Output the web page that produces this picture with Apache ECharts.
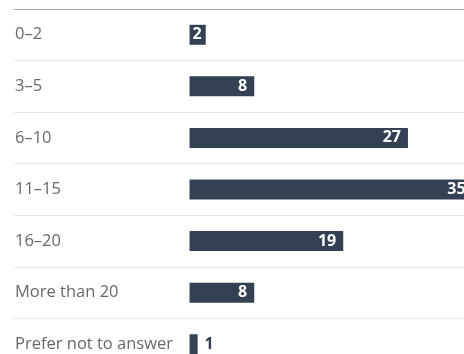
<!DOCTYPE html>
<html>
<head>
<meta charset="utf-8">
<script src="https://cdn.jsdelivr.net/npm/echarts@6/dist/echarts.min.js"></script>
<style>
  html, body { margin: 0; padding: 0; background: #fff; }
  #chart { width: 464px; height: 354px; }
</style>
</head>
<body>
<div id="chart"></div>
<script>
const categories = ['0–2', '3–5', '6–10', '11–15', '16–20', 'More than 20', 'Prefer not to answer']
const counts = [2, 8, 27, 35, 19, 8, 1]

const barColor = '#344154'

const chart = echarts.init(document.getElementById('chart'))

const option = {
  animation: false,
  // last row runs past the bottom edge, like the source
  grid: { left: 14, right: 0, top: 9, height: 361, outerBoundsMode: 'none' },
  xAxis: {
    type: 'value',
    position: 'top',
    min: -21.7,   // leaves room for the labels, bars start at x≈190
    max: 33.93,
    axisLine: { show: true, lineStyle: { color: '#aaaaaa', width: 1 } },
    axisTick: { show: false },
    axisLabel: { show: false },
    splitLine: { show: false }
  },
  yAxis: {
    type: 'category',
    inverse: true,
    data: categories,
    axisLine: { show: false },
    axisTick: { show: false },
    axisLabel: {
      inside: true,
      margin: 1,
      color: '#686868',
      fontFamily: 'Open Sans',
      fontSize: 16.5
    },
    splitLine: { show: true, lineStyle: { color: '#e6e6e6', width: 1 } }
  },
  series: [
    {
      type: 'bar',
      barWidth: 20,
      clip: false,
      itemStyle: { color: barColor },
      label: {
        show: true,
        position: 'insideRight',
        distance: 7,
        color: '#ffffff',
        fontFamily: 'Open Sans',
        fontWeight: 'bold',
        fontSize: 16
      },
      // bars too thin for the number get it outside
      data: counts.map(v => v < 2
        ? { value: v, label: { position: 'right', distance: 7, color: barColor } }
        : v < 5
          ? { value: v, label: { distance: 4 } }
          : v)
    }
  ]
}

chart.setOption(option)
window.onresize = function () {
  chart.resize()
}
</script>
</body>
</html>
